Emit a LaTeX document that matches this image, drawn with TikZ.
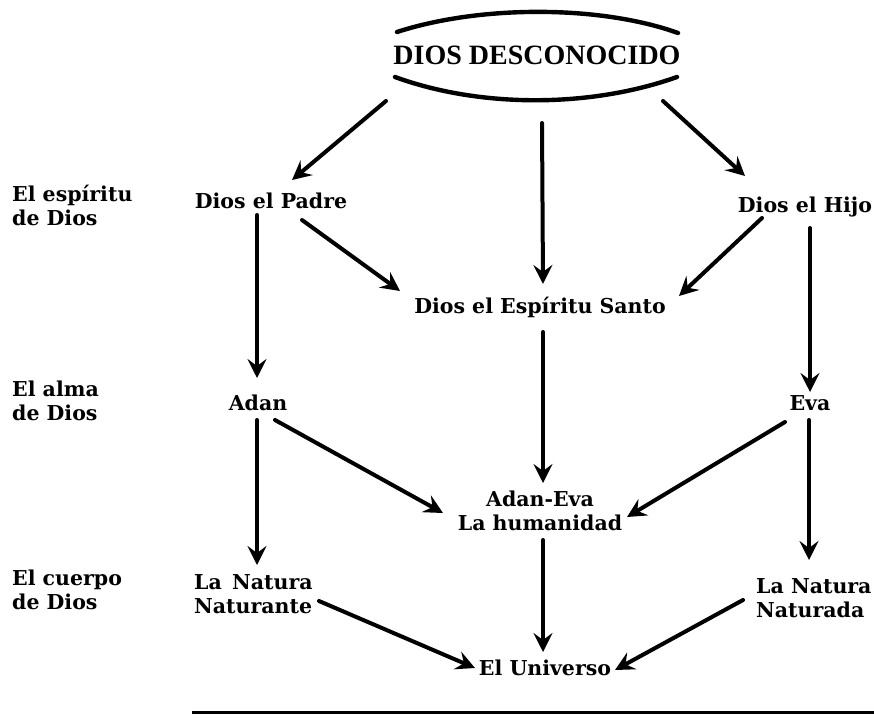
\documentclass[tikz,border=0pt]{standalone}
\usepackage{fontspec}
\setmainfont{DejaVu Serif}
\newfontfamily\titlefont{Liberation Serif}
\usetikzlibrary{arrows.meta,positioning}

\begin{document}
\begin{tikzpicture}[
    x=1pt,y=-1pt,
    font=\bfseries\fontsize{20.5}{24}\selectfont,
    term/.style={align=center,inner sep=2pt},
    side/.style={anchor=west,align=left,inner sep=0pt},
    nature/.style={anchor=west,align=left,inner sep=0pt},
    rim/.style={line width=4.4pt,line cap=round},
    arrow/.style={-{Stealth[length=19pt,width=19pt,inset=7pt]},line width=4pt,line cap=round},
    rule/.style={line width=3pt}
  ]
    \useasboundingbox (0,0) rectangle (874,717);
    \node[term,font=\titlefont\bfseries\fontsize{28}{30}\selectfont] (title) at (537,55) {DIOS DESCONOCIDO};
    \draw[rim] ([shift={(-140,-23)}]title.center) .. controls ([shift={(-57,-50)}]title.center) and ([shift={(63,-50)}]title.center) .. ([shift={(141,-22)}]title.center);
    \draw[rim] ([shift={(-142,22)}]title.center) .. controls ([shift={(-57,53)}]title.center) and ([shift={(53,53)}]title.center) .. ([shift={(140,22)}]title.center);

    \node[side] (espiritu) at (12,205) {El espíritu\\de Dios};
    \node[side] (alma) at (12,401) {El alma\\de Dios};
    \node[side] (cuerpo) at (12,590) {El cuerpo\\de Dios};

    \node[term] (padre) at (271,201) {Dios el Padre};
    \node[term] (hijo) at (805,207) {Dios el Hijo};
    \node[term] (santo) at (540,307) {Dios el Espíritu Santo};
    \node[term] (adan) at (258,403) {Adan};
    \node[term] (eva) at (810,403) {Eva};
    \node[term] (adaneva) at (540,511) {Adan-Eva\\La humanidad};
    \node[nature] (naturante) at (194,594) {La\enspace Natura\\Naturante};
    \node[nature] (naturada) at (756,598) {La Natura\\Naturada};
    \node[term] (universo) at (545,668) {El Universo};

    \draw[arrow] ([shift={(-151,46)}]title.center) -- ([shift={(21,-21)}]padre.center);
    \draw[arrow] ([shift={(5,68)}]title.center) -- ([shift={(3,-23)}]santo.center);
    \draw[arrow] ([shift={(126,46)}]title.center) -- ([shift={(-60,-31)}]hijo.center);
    \draw[arrow] ([shift={(31,19)}]padre.center) -- ([shift={(-140,-16)}]santo.center);
    \draw[arrow] ([shift={(-43,11)}]hijo.center) -- ([shift={(139,-11)}]santo.center);
    \draw[arrow] ([shift={(-14,14)}]padre.center) -- ([shift={(-1,-25)}]adan.center);
    \draw[arrow] ([shift={(5,21)}]hijo.center) -- ([shift={(0,-11)}]eva.center);
    \draw[arrow] ([shift={(3,25)}]santo.center) -- ([shift={(3,-28)}]adaneva.center);
    \draw[arrow] ([shift={(17,17)}]adan.center) -- ([shift={(-97,2)}]adaneva.center);
    \draw[arrow] ([shift={(-25,19)}]eva.center) -- ([shift={(87,6)}]adaneva.center);
    \draw[arrow] ([shift={(-1,17)}]adan.center) -- ([shift={(63,-29)}]naturante.west);
    \draw[arrow] ([shift={(-1,17)}]eva.center) -- ([shift={(53,-38)}]naturada.west);
    \draw[arrow] ([shift={(3,29)}]adaneva.center) -- ([shift={(-2,-16)}]universo.center);
    \draw[arrow] ([shift={(125,7)}]naturante.west) -- ([shift={(-70,0)}]universo.center);
    \draw[arrow] ([shift={(-13,2)}]naturada.west) -- ([shift={(70,2)}]universo.center);

    \draw[rule] (192,712) -- (874,712);
  \end{tikzpicture}
\end{document}
